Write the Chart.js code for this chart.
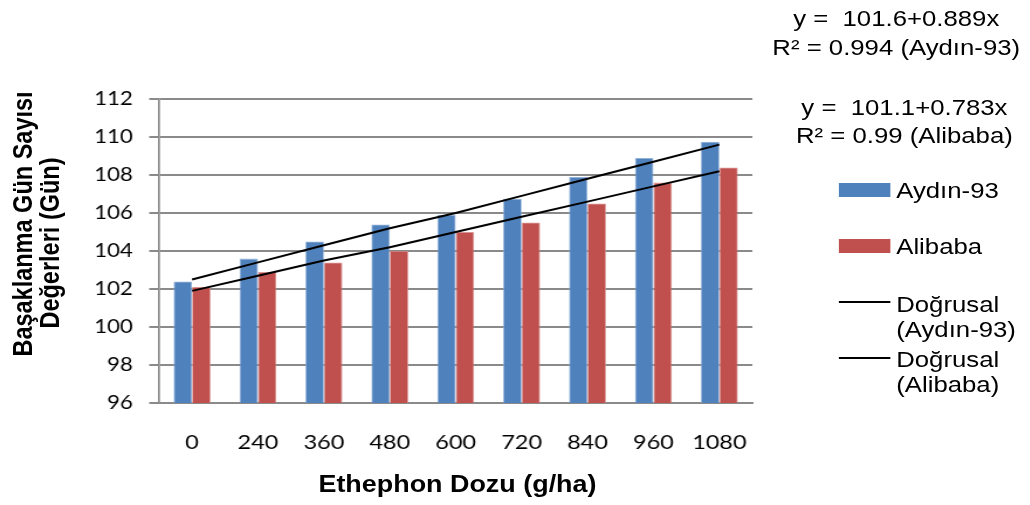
<!DOCTYPE html>
<html>
<head>
<meta charset="utf-8">
<script src="https://cdn.jsdelivr.net/npm/chart.js"></script>
<style>
  html, body { margin: 0; padding: 0; background: #fff; }
  body { width: 1030px; height: 505px; overflow: hidden; }
  /* the original picture is stretched horizontally, so the whole scene is too */
  #scene { position: absolute; left: 0; top: 0; width: 880px; height: 505px;
           transform: scaleX(1.17); transform-origin: 0 0; }
  #scene canvas { position: absolute; left: 0; top: 0; }
  .txt { position: absolute; font-family: "Liberation Sans", Arial, sans-serif; font-size: 22px;
         color: #000; line-height: 30px; height: 30px; white-space: pre; }
  .eq { transform: translateX(-50%); }
  .sw { position: absolute; }
  .ytitle { position: absolute; font-family: "Liberation Sans", Arial, sans-serif; font-weight: bold;
            font-size: 23.5px; line-height: 26px; white-space: nowrap;
            transform: translate(-50%, -50%) rotate(-90deg); }
  .xtitle { position: absolute; font-family: "Liberation Sans", Arial, sans-serif; font-weight: bold;
            font-size: 23px; line-height: 26px; white-space: nowrap; transform: translate(-50%, -50%); }
</style>
</head>
<body>
<div id="scene">
  <canvas id="chart" width="880" height="505"></canvas>

  <div class="ytitle" style="left:19px; top:224px;">Başaklanma Gün Sayısı</div>
  <div class="ytitle" style="left:42px; top:243px;">Değerleri (Gün)</div>
  <div class="xtitle" style="left:391px; top:484px;">Ethephon Dozu (g/ha)</div>

  <div class="txt eq" style="left:766px; top:4px;">y =  101.6+0.889x</div>
  <div class="txt eq" style="left:766px; top:33px;">R² = 0.994 (Aydın-93)</div>
  <div class="txt eq" style="left:773px; top:93px;">y =  101.1+0.783x</div>
  <div class="txt eq" style="left:773px; top:121px;">R² = 0.99 (Alibaba)</div>

  <div class="sw" style="left:717px; top:183px; width:44px; height:14px; background:#4f81bd;"></div>
  <div class="txt" style="left:766px; top:176px;">Aydın-93</div>
  <div class="sw" style="left:717px; top:239px; width:44px; height:14px; background:#c0504d;"></div>
  <div class="txt" style="left:766px; top:232px;">Alibaba</div>
  <div class="sw" style="left:717px; top:301px; width:44px; height:2px; background:#000;"></div>
  <div class="txt" style="left:766px; top:290px;">Doğrusal</div>
  <div class="txt" style="left:766px; top:315px;">(Aydın-93)</div>
  <div class="sw" style="left:717px; top:357px; width:44px; height:2px; background:#000;"></div>
  <div class="txt" style="left:766px; top:345px;">Doğrusal</div>
  <div class="txt" style="left:766px; top:370px;">(Alibaba)</div>
</div>

<script>
const categories   = ["0", "240", "360", "480", "600", "720", "840", "960", "1080"];
const aydin        = [102.4, 103.6, 104.5, 105.4, 105.9, 106.75, 107.9, 108.9, 109.75];
const alibaba      = [102.1, 102.9, 103.4, 104.0, 105.0, 105.5, 106.5, 107.6, 108.4];
const aydinTrend   = [102.5, 103.4, 104.3, 105.2, 106.0, 106.9, 107.8, 108.7, 109.6];
const alibabaTrend = [101.9, 102.7, 103.5, 104.2, 105.0, 105.8, 106.6, 107.4, 108.2];
const yMin = 96, yMax = 112, yStep = 2;

const gridColor = "#8a8a8a";

new Chart(document.getElementById("chart"), {
  type: "bar",
  data: {
    labels: categories,
    datasets: [
      { label: "Aydın-93", data: aydin, backgroundColor: "#4f81bd", borderColor: "#8fb0d8",
        borderWidth: 0.8, order: 2, categoryPercentage: 0.56, barPercentage: 1 },
      { label: "Alibaba", data: alibaba, backgroundColor: "#c0504d", borderColor: "#d99492",
        borderWidth: 0.8, order: 2, categoryPercentage: 0.56, barPercentage: 1 },
      { type: "line", label: "Doğrusal (Aydın-93)", data: aydinTrend, borderColor: "#000",
        borderWidth: 2, pointRadius: 0, fill: false, tension: 0, order: 1 },
      { type: "line", label: "Doğrusal (Alibaba)", data: alibabaTrend, borderColor: "#000",
        borderWidth: 2, pointRadius: 0, fill: false, tension: 0, order: 1 },
    ]
  },
  options: {
    responsive: false,
    animation: false,
    layout: { padding: { left: 0, right: 237, top: 99, bottom: 42 } },
    plugins: { legend: { display: false }, tooltip: { enabled: false } },
    scales: {
      x: {
        offset: true,
        grid: { display: false, drawTicks: false },
        border: { display: true, color: gridColor, width: 2 },
        ticks: { color: "#000", padding: 28, maxRotation: 0, autoSkip: false,
                 font: { family: "Lato", size: 20 } },
        afterFit: s => { s.height = 60; s.paddingLeft = 0; s.paddingRight = 0; }
      },
      y: {
        min: yMin, max: yMax,
        grid: { color: gridColor, lineWidth: 2, tickLength: 8.5, tickColor: gridColor },
        border: { display: true, color: gridColor, width: 1.7 },
        ticks: { stepSize: yStep, color: "#000", padding: 14,
                 font: { family: "Lato", size: 19 } },
        afterFit: s => { s.width = 136; s.paddingTop = 0; s.paddingBottom = 0; }
      }
    }
  }
});
</script>
</body>
</html>
